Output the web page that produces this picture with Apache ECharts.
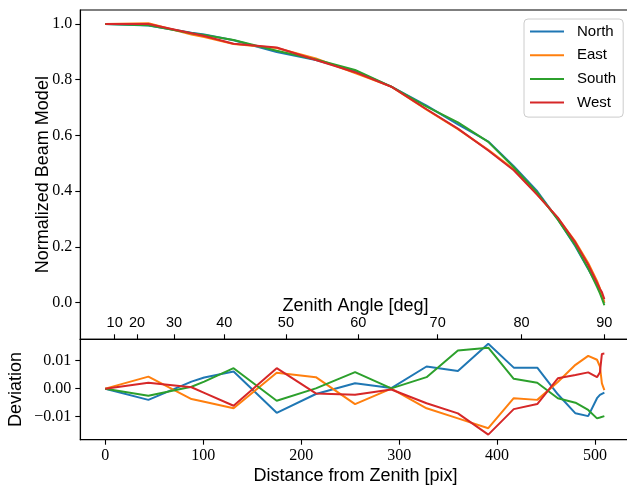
<!DOCTYPE html>
<html>
<head>
<meta charset="utf-8">
<script src="https://cdn.jsdelivr.net/npm/echarts@6/dist/echarts.min.js"></script>
<style>
  html, body { margin: 0; padding: 0; background: #fff; }
  #chart { width: 627px; height: 487px; }
</style>
</head>
<body>
<div id="chart"></div>
<script>
// Radial distance of each sample from the zenith, in pixels
const distancePix = [0, 44, 88, 101, 131, 175, 215, 255, 292, 328, 360, 391, 417, 441, 462, 480, 493, 502, 505, 507, 509.5];

// Normalized beam model along each direction
const beamNorth = [1.000, 0.994, 0.9685, 0.962, 0.9411, 0.8994, 0.8701, 0.8309, 0.7752, 0.7069, 0.6393, 0.578, 0.4895, 0.3995, 0.299, 0.2012, 0.1202, 0.0636, 0.0408, 0.0233, -0.0014];
const beamEast  = [1.000, 1.0023, 0.9623, 0.9533, 0.928, 0.9137, 0.8761, 0.8235, 0.775, 0.692, 0.6224, 0.5479, 0.4786, 0.388, 0.3034, 0.2185, 0.1417, 0.0773, 0.0509, 0.0269, -0.0005];
const beamSouth = [1.000, 0.9955, 0.9667, 0.9605, 0.9423, 0.9037, 0.8721, 0.8349, 0.7751, 0.7031, 0.6466, 0.5766, 0.4855, 0.3941, 0.2976, 0.205, 0.1224, 0.0564, 0.0327, 0.015, -0.0098];
const beamWest  = [1.000, 1.0001, 0.9665, 0.9565, 0.9289, 0.9153, 0.8703, 0.8268, 0.7747, 0.6938, 0.6242, 0.5456, 0.4747, 0.3865, 0.3047, 0.2149, 0.1358, 0.0711, 0.0488, 0.0374, 0.0125];

// Deviation of each direction from the mean profile
const devNorth = [0, -0.0040, 0.0025, 0.0040, 0.0061, -0.0086, -0.0019, 0.0019, 0.0002, 0.0079, 0.0063, 0.0160, 0.0075, 0.0075, -0.0020, -0.0088, -0.0098, -0.0034, -0.0022, -0.0017, -0.0014];
const devEast  = [0, 0.0043, -0.0037, -0.0047, -0.0070, 0.0057, 0.0041, -0.0055, 0.0000, -0.0070, -0.0106, -0.0141, -0.0034, -0.0040, 0.0024, 0.0085, 0.0117, 0.0103, 0.0079, 0.0019, -0.0005];
const devSouth = [0, -0.0025, 0.0007, 0.0025, 0.0073, -0.0043, 0.0001, 0.0059, 0.0001, 0.0041, 0.0136, 0.0146, 0.0035, 0.0021, -0.0034, -0.0050, -0.0076, -0.0106, -0.0103, -0.0100, -0.0098];
const devWest  = [0, 0.0021, 0.0005, -0.0015, -0.0061, 0.0073, -0.0017, -0.0022, -0.0003, -0.0052, -0.0088, -0.0164, -0.0073, -0.0055, 0.0037, 0.0049, 0.0058, 0.0041, 0.0058, 0.0124, 0.0125];

// Zenith-angle scale: pixel distance of each labelled angle
const zenithTickPix = [9.6, 32.4, 70.1, 121.4, 184.4, 258.3, 339.3, 425.0, 509.5];
const zenithTickDeg = ['10', '20', '30', '40', '50', '60', '70', '80', '90'];

const distanceTicks = [0, 100, 200, 300, 400, 500];
const beamTicks = [0, 0.2, 0.4, 0.6, 0.8, 1.0];
const devTicks = [-0.01, 0, 0.01];

const seriesNames = ['North', 'East', 'South', 'West'];
const colors = ['#1f77b4', '#ff7f0e', '#2ca02c', '#d62728'];
const beamSets = [beamNorth, beamEast, beamSouth, beamWest];
const devSets = [devNorth, devEast, devSouth, devWest];

const SERIF = '"Liberation Serif", "DejaVu Serif", serif';
const SANS = '"Liberation Sans", "DejaVu Sans", sans-serif';
const X_MIN = -25.5, X_MAX = 536.5;

const axisLineStyle = { color: '#000', width: 1.1 };
// plain line swatch for the legend entries
const LINE_ICON = 'path://M0,0L34,0L34,2L0,2Z';

function pairs(xs, ys) { return xs.map((x, i) => [x, ys[i]]); }

function zenithLabel(v) {
  let best = 0;
  for (let i = 1; i < zenithTickPix.length; i++) {
    if (Math.abs(zenithTickPix[i] - v) < Math.abs(zenithTickPix[best] - v)) best = i;
  }
  return zenithTickDeg[best];
}

function devLabel(v) {
  const s = Math.abs(v).toFixed(2);
  return v < -1e-9 ? '\u2212' + s : s;
}

const series = [];
seriesNames.forEach((name, k) => {
  series.push({
    name, type: 'line', xAxisIndex: 0, yAxisIndex: 0,
    data: pairs(distancePix, beamSets[k]),
    symbol: 'none', lineStyle: { width: 2, color: colors[k] }, itemStyle: { color: colors[k] },
    animation: false
  });
});
seriesNames.forEach((name, k) => {
  series.push({
    name, type: 'line', xAxisIndex: 1, yAxisIndex: 1,
    data: pairs(distancePix, devSets[k]),
    symbol: 'none', lineStyle: { width: 2, color: colors[k] }, itemStyle: { color: colors[k] },
    animation: false
  });
});

// the plot frame runs a few pixels past the right edge of the canvas
const PLOT_LEFT = 80.3, PLOT_WIDTH = 550.5;

const chart = echarts.init(document.getElementById('chart'), null, { renderer: 'canvas' });
chart.setOption({
  animation: false,
  backgroundColor: '#fff',
  grid: [
    { left: PLOT_LEFT, width: PLOT_WIDTH, top: 10, height: 329.3, outerBoundsMode: 'none', containLabel: false,
      show: true, borderColor: '#000', borderWidth: 1.1 },
    { left: PLOT_LEFT, width: PLOT_WIDTH, top: 339.3, height: 100.4, outerBoundsMode: 'none', containLabel: false,
      show: true, borderColor: '#000', borderWidth: 1.1 }
  ],
  legend: {
    data: seriesNames.map((n) => ({ name: n, icon: LINE_ICON })),
    orient: 'vertical',
    left: 524, top: 19,
    padding: [5, 7, 7, 6],
    itemWidth: 34, itemHeight: 14, itemGap: 8.7,
    borderColor: '#cccccc', borderWidth: 1, borderRadius: 4,
    backgroundColor: 'rgba(255,255,255,0.8)',
    textStyle: { fontFamily: SANS, fontSize: 15, color: '#000', padding: [0, 0, 0, 8] }
  },
  graphic: [
    {
      type: 'text', x: PLOT_LEFT + PLOT_WIDTH / 2, y: 306,
      style: {
        text: 'Zenith Angle [deg]', fontFamily: SANS, fontSize: 18, fill: '#000',
        align: 'center', verticalAlign: 'middle'
      }
    }
  ],
  xAxis: [
    {
      gridIndex: 0, type: 'value', min: X_MIN, max: X_MAX, position: 'bottom',
      axisLine: { show: true, onZero: false, lineStyle: axisLineStyle },
      axisTick: { show: true, inside: true, length: 5, customValues: zenithTickPix, lineStyle: axisLineStyle },
      axisLabel: {
        show: true, inside: true, margin: 9, customValues: zenithTickPix,
        formatter: zenithLabel, fontFamily: SANS, fontSize: 14.5, color: '#000'
      },
      splitLine: { show: false }
    },
    {
      gridIndex: 1, type: 'value', min: X_MIN, max: X_MAX, position: 'bottom',
      axisLine: { show: true, onZero: false, lineStyle: axisLineStyle },
      axisTick: { show: true, length: 5, customValues: distanceTicks, lineStyle: axisLineStyle },
      axisLabel: {
        show: true, margin: 8, customValues: distanceTicks,
        formatter: (v) => String(Math.round(v)), fontFamily: SERIF, fontSize: 16, color: '#000'
      },
      splitLine: { show: false },
      name: 'Distance from Zenith [pix]', nameLocation: 'middle', nameGap: 27, nameMoveOverlap: false,
      nameTextStyle: { fontFamily: SANS, fontSize: 18, color: '#000' }
    }
  ],
  yAxis: [
    {
      gridIndex: 0, type: 'value', min: -0.132, max: 1.05,
      axisLine: { show: true, onZero: false, lineStyle: axisLineStyle },
      axisTick: { show: true, length: 5, customValues: beamTicks, lineStyle: axisLineStyle },
      axisLabel: {
        show: true, margin: 8, customValues: beamTicks,
        formatter: (v) => v.toFixed(1), fontFamily: SERIF, fontSize: 16, color: '#000'
      },
      splitLine: { show: false },
      name: 'Normalized Beam Model', nameLocation: 'middle', nameGap: 28, nameMoveOverlap: false,
      nameTextStyle: { fontFamily: SANS, fontSize: 18, color: '#000' }
    },
    {
      gridIndex: 1, type: 'value', min: -0.0182, max: 0.0176,
      axisLine: { show: true, onZero: false, lineStyle: axisLineStyle },
      axisTick: { show: true, length: 5, customValues: devTicks, lineStyle: axisLineStyle },
      axisLabel: {
        show: true, margin: 9, customValues: devTicks,
        formatter: devLabel, fontFamily: SERIF, fontSize: 16, color: '#000'
      },
      splitLine: { show: false },
      name: 'Deviation', nameLocation: 'middle', nameGap: 55, nameMoveOverlap: false,
      nameTextStyle: { fontFamily: SANS, fontSize: 18, color: '#000' }
    }
  ],
  series
});
</script>
</body>
</html>
